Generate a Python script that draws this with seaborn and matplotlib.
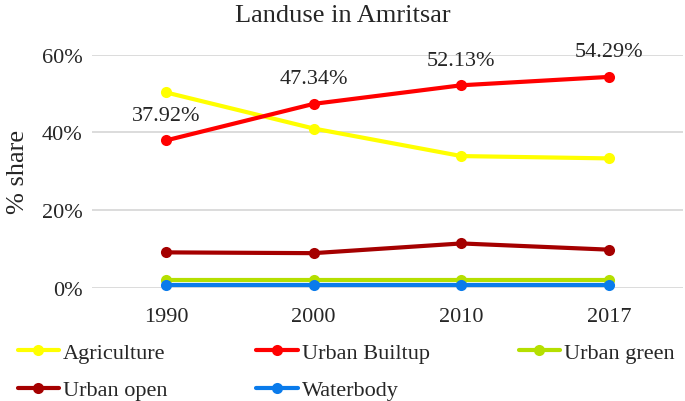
import pandas as pd
import numpy as np
import matplotlib.pyplot as plt
from matplotlib.ticker import PercentFormatter
import seaborn as sns

# land use share (%)
years = ['1990', '2000', '2010', '2017']
agriculture = [50.3, 41.0, 33.9, 33.3]
urban_builtup = [37.92, 47.34, 52.13, 54.29]
urban_green = [2.0, 2.0, 2.0, 2.0]
urban_open = [9.1, 8.9, 11.4, 9.8]
waterbody = [0.7, 0.7, 0.7, 0.7]

classes = ['Agriculture', 'Urban Builtup', 'Urban green', 'Urban open', 'Waterbody']
colors = ['#FFFF00', '#FF0000', '#B5DF00', '#A50000', '#0A7BEB']

df = pd.DataFrame({
    'year': years * 5,
    'share': agriculture + urban_builtup + urban_green + urban_open + waterbody,
    'cls': np.repeat(classes, 4),
})

sns.set_style('white')
plt.rcParams['font.family'] = ['Liberation Serif', 'DejaVu Serif']

fig = plt.figure(figsize=(6.85, 4.02), dpi=100)
ax = fig.add_axes([0.1343, 0.2818, 0.997 - 0.1343, 0.8614 - 0.2818])

sns.lineplot(data=df, x='year', y='share', hue='cls', palette=colors, hue_order=classes,
             marker='o', markersize=8, markeredgewidth=0, linewidth=3, sort=False,
             clip_on=False, ax=ax, legend=True)

# labels on the builtup line
for i, v in enumerate(urban_builtup):
    ax.annotate(f'{v:.2f}%', (i, v), xytext=(0, 18), textcoords='offset points',
                ha='center', va='center', fontsize=16)

ax.set_xlim(-0.5, 3.5)
ax.set_ylim(0, 60)
ax.set_yticks([0, 20, 40, 60])
ax.yaxis.set_major_formatter(PercentFormatter(decimals=0))
ax.grid(axis='y', color='#D9D9D9', linewidth=1.3)
ax.set_axisbelow(True)
for s in ax.spines.values():
    s.set_visible(False)
ax.tick_params(axis='both', length=0, labelsize=16)
ax.tick_params(axis='y', pad=7)
ax.tick_params(axis='x', pad=14)
ax.set_xlabel('')
ax.set_ylabel('% share', fontsize=19, labelpad=9)

fig.suptitle('Landuse in Amritsar', fontsize=19, y=0.96, va='center')

# legend laid out row-wise in 3 columns
handles, labels = ax.get_legend_handles_labels()
ax.get_legend().remove()
order = [0, 3, 1, 4, 2]
fig.legend([handles[k] for k in order], [labels[k] for k in order], ncol=3,
           loc='upper left', bbox_to_anchor=(17.5 / 685, 1 - 343 / 402),
           frameon=False, fontsize=16, handlelength=1.85, handletextpad=0.2,
           columnspacing=4.0, labelspacing=0.78, borderpad=0, borderaxespad=0)

fig.savefig('out.png', dpi=100)
